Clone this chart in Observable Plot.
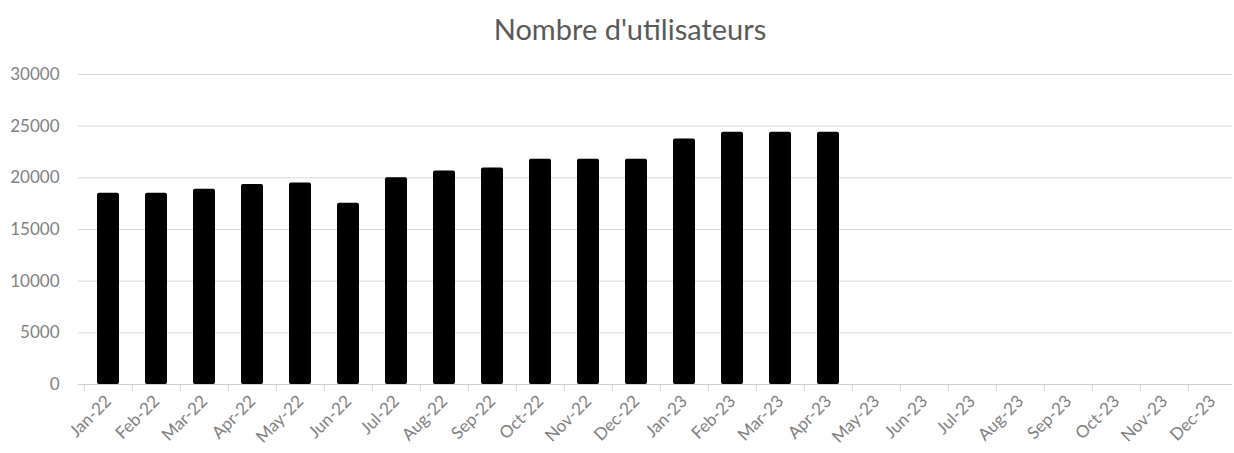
<!DOCTYPE html>
<html>
<head>
<meta charset="utf-8">
<script src="https://cdn.jsdelivr.net/npm/d3@7"></script>
<script src="https://cdn.jsdelivr.net/npm/@observablehq/plot@0.6"></script>
<style>
  html, body { margin: 0; padding: 0; background: #fff; }
  #title { width: 1234px; height: 52px; line-height: 58px; text-align: center; box-sizing: border-box; padding-left: 26px;
           font-family: Lato, "Open Sans", sans-serif; font-size: 29px; color: #595959; }
  #chart svg { display: block; }
</style>
</head>
<body>
<div id="title">Nombre d'utilisateurs</div>
<div id="chart"></div>
<script>
const months = ["Jan-22","Feb-22","Mar-22","Apr-22","May-22","Jun-22","Jul-22","Aug-22","Sep-22","Oct-22","Nov-22","Dec-22",
                "Jan-23","Feb-23","Mar-23","Apr-23","May-23","Jun-23","Jul-23","Aug-23","Sep-23","Oct-23","Nov-23","Dec-23"];
const users = [18500, 18500, 18900, 19350, 19500, 17550, 20000, 20650, 20950, 21800, 21800, 21800,
               23750, 24400, 24400, 24400, null, null, null, null, null, null, null, null];
const yTicks = [0, 5000, 10000, 15000, 20000, 25000, 30000];

const data = months.map((m, i) => ({month: m, users: users[i]})).filter(d => d.users != null);

const W = 1234, H = 401;
const xRange = [78, 1242];
const step = (xRange[1] - xRange[0]) / months.length;

const chart = Plot.plot({
  width: W,
  height: H,
  marginLeft: 78,
  marginRight: 2,
  marginTop: 22,
  marginBottom: 69,
  style: {fontFamily: "Lato, 'Open Sans', sans-serif", fontSize: "17px", color: "#7f7f7f", background: "#fff"},
  x: {domain: months, range: xRange, paddingInner: 0.54, paddingOuter: 0.27, label: null},
  y: {domain: [0, 30000], label: null},
  marks: [
    Plot.gridY(yTicks, {stroke: "#d9d9d9", strokeOpacity: 1, strokeWidth: 1}),
    Plot.axisY(yTicks, {tickSize: 0, tickPadding: 19, tickFormat: d => String(d), fontSize: 17, fill: "#7f7f7f", label: null}),
    Plot.barY(data, {x: "month", y: "users", fill: "#000", rx: 2}),
    Plot.ruleY([0], {stroke: "#d0d0d0", strokeWidth: 1}),
    Plot.ruleX(months, {x: d => d, dx: -step / 2, y1: 0, y2: 0, insetBottom: -7, stroke: "#d0d0d0"}),
    Plot.axisX({tickSize: 0, tickPadding: 14, tickRotate: -45, fontSize: 17, fill: "#7f7f7f", label: null})
  ]
});
document.getElementById("chart").appendChild(chart);
</script>
</body>
</html>
